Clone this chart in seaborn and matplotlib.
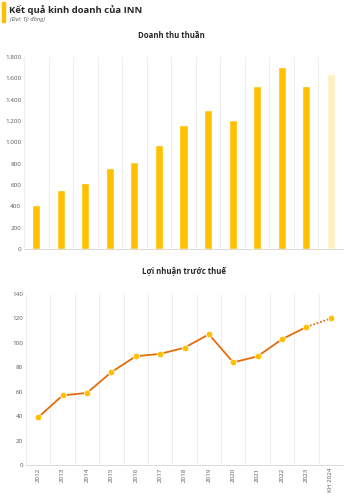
import matplotlib
matplotlib.use("Agg")
import matplotlib.pyplot as plt
from matplotlib.ticker import FuncFormatter, MultipleLocator
import seaborn as sns
import pandas as pd

# Data (units: billion VND)
years = ["2012", "2013", "2014", "2015", "2016", "2017", "2018",
         "2019", "2020", "2021", "2022", "2023", "KH 2024"]
revenue = [415, 555, 620, 760, 820, 975, 1160, 1305, 1205, 1530, 1705, 1530, 1645]
profit = [39, 57, 59, 76, 89, 91, 96, 107, 84, 89, 103, 113, 120]

sns.set_theme(style="white")
plt.rcParams["font.family"] = ["Open Sans", "DejaVu Sans"]

gold = "#FFC000"
plan_gold = "#FFEFC2"
orange = "#E46C0A"
grid_c = "#EFEFEF"
tick_c = "#595959"

fig = plt.figure(figsize=(3.47, 5.0), dpi=100)
W, H = 347, 500


def px_axes(l, t, r, b):
    return fig.add_axes([l / W, 1 - b / H, (r - l) / W, (b - t) / H])


def style_axes(ax):
    ax.set_xlim(-0.5, len(years) - 0.5)
    ax.set_xticks([i + 0.5 for i in range(len(years))], minor=True)
    ax.grid(which="minor", axis="x", color=grid_c, linewidth=0.7)
    ax.grid(which="major", axis="both", visible=False)
    for s in ["top", "right"]:
        ax.spines[s].set_visible(False)
    ax.spines["left"].set_color(grid_c)
    ax.spines["bottom"].set_color("#D9D9D9")
    ax.spines["left"].set_linewidth(0.7)
    ax.spines["bottom"].set_linewidth(0.7)
    ax.tick_params(axis="both", which="both", length=0, labelsize=4.5,
                   labelcolor=tick_c, pad=2)
    ax.set_xlabel("")
    ax.set_ylabel("")


# Header
fig.patches.append(plt.Rectangle((2 / W, 1 - 22 / H), 3 / W, 20 / H,
                                 transform=fig.transFigure, color=gold))
fig.text(9 / W, 1 - 10 / H, "Kết quả kinh doanh của INN", fontsize=6.8,
         fontweight="bold", color="#262626", va="center", ha="left")
fig.text(10 / W, 1 - 19.5 / H, "(Đvt: Tỷ đồng)", fontsize=4.2,
         style="italic", color="#595959", va="center", ha="left")

# Revenue bars
ax1 = px_axes(24, 57, 343, 249)
df_rev = pd.DataFrame({"year": years, "revenue": revenue})
colors = [gold] * (len(years) - 1) + [plan_gold]
sns.barplot(data=df_rev, x="year", y="revenue", hue="year", palette=colors,
            legend=False, width=0.33, ax=ax1, saturation=1)
ax1.set_ylim(0, 1800)
ax1.yaxis.set_major_locator(MultipleLocator(200))
ax1.yaxis.set_major_formatter(FuncFormatter(lambda v, p: f"{int(v):,}".replace(",", ".")))
style_axes(ax1)
ax1.set_xticklabels([])
fig.text(171 / W, 1 - 35 / H, "Doanh thu thuần", fontsize=5.6,
         fontweight="bold", color="#262626", ha="center", va="center")

# Profit line
ax2 = px_axes(26, 294, 343, 465)
df_pr = pd.DataFrame({"x": range(len(years)), "profit": profit})
sns.lineplot(data=df_pr.iloc[:-1], x="x", y="profit", color=orange,
             linewidth=1.3, ax=ax2)
sns.lineplot(data=df_pr.iloc[-2:], x="x", y="profit", color=orange,
             linewidth=1.3, linestyle=(0, (1, 1)), ax=ax2)
sns.scatterplot(data=df_pr, x="x", y="profit", color=gold, s=22,
                edgecolor="white", linewidth=0.5, zorder=5, ax=ax2)
ax2.set_ylim(0, 140)
ax2.yaxis.set_major_locator(MultipleLocator(20))
style_axes(ax2)
ax2.set_xticks(range(len(years)))
ax2.set_xticklabels(years, rotation=90)
fig.text(184 / W, 1 - 271 / H, "Lợi nhuận trước thuế", fontsize=5.6,
         fontweight="bold", color="#262626", ha="center", va="center")

fig.savefig("out.png", dpi=100)
